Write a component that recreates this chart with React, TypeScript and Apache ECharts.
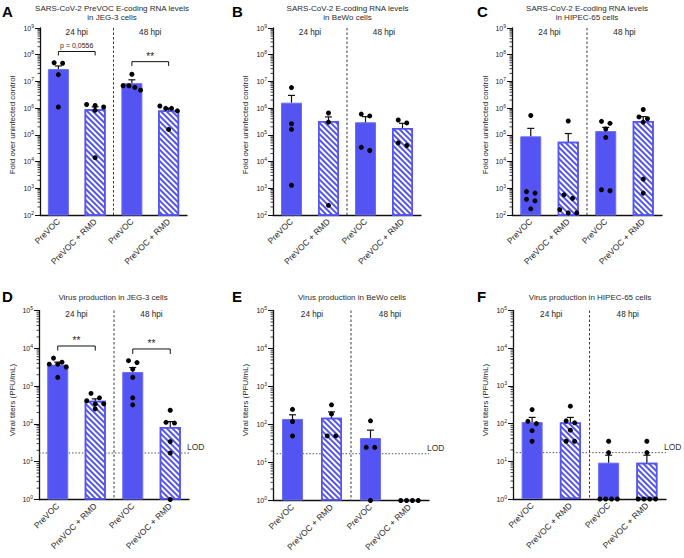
import React, { useEffect, useRef } from "react";
import * as echarts from "echarts";

const FONT = "'Liberation Sans', Arial, Helvetica, sans-serif";
const BLUE = "#5454F2";
const INK = "#1e1e1e";

const categories = ["PreVOC", "PreVOC + RMD", "PreVOC", "PreVOC + RMD"];
const withRmd = [false, true, false, true];
const timepoints = ["24 hpi", "48 hpi"];

// A: E-coding RNA, PreVOC, JEG-3
const jegRnaMean = [2.9e7, 9.0e5, 8.6e6, 8.2e5];
const jegRnaSemTop = [3.8e7, 1.12e6, 1.15e7, 1.0e6];
const jegRnaPoints = [
  [5.0e7, 4.8e7, 1.8e7, 1.1e6],
  [1.37e6, 1.26e6, 1.1e6, 8.3e5, 1.4e4],
  [1.86e7, 6.9e6, 6.9e6, 6.0e6, 4.7e6],
  [1.2e6, 9.8e5, 9.8e5, 7.9e5, 1.6e5],
];
const jegRnaBrackets = [
  { from: 0, to: 1, top: 1.32e8, leg: 9.4e7, text: "p = 0,0556" },
  { from: 2, to: 3, top: 5.5e7, leg: 3.8e7, text: "**" },
];

// B: E-coding RNA, BeWo
const bewoRnaMean = [1.6e6, 3.3e5, 2.95e5, 1.8e5];
const bewoRnaSemTop = [3.0e6, 4.7e5, 4.8e5, 2.7e5];
const bewoRnaPoints = [
  [5.9e6, 2.6e5, 1.6e5, 1.3e3],
  [6.6e5, 3.0e5, 2.3e2],
  [6.0e5, 5.1e5, 3.4e4, 2.6e4],
  [3.6e5, 2.8e5, 5.0e4, 4.0e4],
];

// C: E-coding RNA, HIPEC-65
const hipecRnaMean = [8.8e4, 5.5e4, 1.38e5, 3.3e5];
const hipecRnaSemTop = [1.75e5, 1.12e5, 1.9e5, 4.8e5];
const hipecRnaPoints = [
  [5.3e5, 750, 660, 390, 340, 170],
  [3.3e5, 570, 420, 160, 120, 120],
  [3.2e5, 2.7e5, 1.66e5, 8.0e4, 880, 810],
  [8.9e5, 4.7e5, 4.0e5, 3.0e5, 2.2e3, 660],
];

// D: infectious titers, JEG-3
const jegTiterMean = [3.7e3, 4.1e2, 2.35e3, 83];
const jegTiterSemTop = [4.3e3, 4.6e2, 3.1e3, 115];
const jegTiterPoints = [
  [5.5e3, 4.3e3, 3.8e3, 3.8e3, 3.2e3, 1.7e3],
  [640, 490, 410, 340, 340, 250],
  [4.7e3, 4.2e3, 2.8e3, 1.7e3, 490, 320],
  [230, 110, 105, 34, 17, 1],
];
const jegTiterBrackets = [
  { from: 0, to: 1, top: 1.15e4, leg: 8.7e3, text: "**" },
  { from: 2, to: 3, top: 9.6e3, leg: 7.1e3, text: "**" },
];

// E: infectious titers, BeWo
const bewoTiterMean = [140, 150, 44, 1];
const bewoTiterSemTop = [180, 215, 71, 1];
const bewoTiterPoints = [
  [250, 120, 50],
  [330, 190, 50, 50],
  [125, 25, 25, 1],
  [1, 1, 1, 1],
];

// F: infectious titers, HIPEC-65
const hipecTiterMean = [110, 107, 9.2, 9.2];
const hipecTiterSemTop = [146, 146, 14.5, 14.5];
const hipecTiterPoints = [
  [235, 115, 100, 65, 34],
  [290, 118, 105, 67, 34, 34],
  [34, 17, 1, 1, 1, 1],
  [34, 17, 1, 1, 1, 1],
];

const rnaRange = [1e2, 1e9];
const titerRange = [1, 1e5];
const titerLod = 17;

type Bracket = { from: number; to: number; top: number; leg: number; text: string };
type Panel = {
  letter: string;
  letterPos: [number, number];
  title: string;
  titlePos: [number, number];
  titleTwoLines: boolean;
  yName: string;
  yNamePos: [number, number];
  mean: number[];
  semTop: number[];
  points: number[][];
  range: number[];
  box: [number, number, number, number];
  lod?: number;
  brackets?: Bracket[];
};

const panels: Panel[] = [
  {
    letter: "A", letterPos: [2, 4],
    title: "SARS-CoV-2 PreVOC E-coding RNA levels\nin JEG-3 cells", titlePos: [112, 3.5], titleTwoLines: true,
    yName: "Fold over uninfected control", yNamePos: [12, 125],
    mean: jegRnaMean, semTop: jegRnaSemTop, points: jegRnaPoints, range: rnaRange,
    box: [40, 28, 147, 187], brackets: jegRnaBrackets,
  },
  {
    letter: "B", letterPos: [232, 4],
    title: "SARS-CoV-2 E-coding RNA levels\nin BeWo cells", titlePos: [347.5, 3.5], titleTwoLines: true,
    yName: "Fold over uninfected control", yNamePos: [245, 125],
    mean: bewoRnaMean, semTop: bewoRnaSemTop, points: bewoRnaPoints, range: rnaRange,
    box: [273, 28, 148, 187],
  },
  {
    letter: "C", letterPos: [477, 4],
    title: "SARS-CoV-2 E-coding RNA levels\nin HIPEC-65 cells", titlePos: [587, 3.5], titleTwoLines: true,
    yName: "Fold over uninfected control", yNamePos: [485, 125],
    mean: hipecRnaMean, semTop: hipecRnaSemTop, points: hipecRnaPoints, range: rnaRange,
    box: [512, 28, 150, 187],
  },
  {
    letter: "D", letterPos: [2, 289],
    title: "Virus production in JEG-3 cells", titlePos: [113, 297], titleTwoLines: false,
    yName: "Viral titers (PFU/mL)", yNamePos: [12, 400],
    mean: jegTiterMean, semTop: jegTiterSemTop, points: jegTiterPoints, range: titerRange,
    box: [39, 310.5, 150, 189], lod: titerLod, brackets: jegTiterBrackets,
  },
  {
    letter: "E", letterPos: [232, 289],
    title: "Virus production in BeWo cells", titlePos: [352, 297], titleTwoLines: false,
    yName: "Viral titers (PFU/mL)", yNamePos: [245, 400],
    mean: bewoTiterMean, semTop: bewoTiterSemTop, points: bewoTiterPoints, range: titerRange,
    box: [273, 310.5, 156, 190], lod: titerLod,
  },
  {
    letter: "F", letterPos: [477, 289],
    title: "Virus production in HIPEC-65 cells", titlePos: [590, 297], titleTwoLines: false,
    yName: "Viral titers (PFU/mL)", yNamePos: [485, 400],
    mean: hipecTiterMean, semTop: hipecTiterSemTop, points: hipecTiterPoints, range: titerRange,
    box: [513, 310.5, 153, 188.5], lod: titerLod,
  },
];

const DOT_D = 5;

// Spread replicate dots sideways when they would overlap (simple row-based swarm).
function swarm(values: number[], pxPerDecade: number): number[][] {
  const sorted = [...values].sort((a, b) => b - a);
  const rows: number[][] = [];
  for (const v of sorted) {
    const last = rows[rows.length - 1];
    if (last && (Math.log10(last[0]) - Math.log10(v)) * pxPerDecade < DOT_D) last.push(v);
    else rows.push([v]);
  }
  const out: number[][] = [];
  rows.forEach((row) => {
    const n = row.length;
    const step = n > 1 ? Math.min(8.5, 17.5 / (n - 1)) : 0;
    row.forEach((v, i) => out.push([v, (i - (n - 1) / 2) * step]));
  });
  return out;
}

const textStyle = (text: string, size: number, extra: any = {}) => ({
  text,
  fill: INK,
  textFill: INK,
  fontSize: size,
  fontFamily: FONT,
  align: "center",
  textAlign: "center",
  verticalAlign: "middle",
  textVerticalAlign: "middle",
  ...extra,
});

const customBase = (k: number, z: number) => ({
  type: "custom",
  xAxisIndex: k,
  yAxisIndex: k,
  z,
  silent: true,
  itemStyle: { color: "#111" },
});

function buildOption() {
  const grid: any[] = [];
  const xAxis: any[] = [];
  const yAxis: any[] = [];
  const series: any[] = [];
  const graphic: any[] = [];

  panels.forEach((p, k) => {
    const [left, top, width, height] = p.box;
    const [yMin, yMax] = p.range;
    const decades = Math.log10(yMax) - Math.log10(yMin);
    const pxPerDecade = height / decades;

    grid.push({ left, top, width, height, containLabel: false });

    xAxis.push({
      type: "category",
      gridIndex: k,
      data: categories,
      boundaryGap: true,
      axisLine: { lineStyle: { color: "#111", width: 1.3 } },
      axisTick: { alignWithLabel: true, length: 3, lineStyle: { color: "#111", width: 1 } },
      axisLabel: {
        interval: 0,
        rotate: 45,
        margin: 5,
        fontSize: 8.5,
        fontFamily: FONT,
        color: INK,
      },
      splitLine: { show: false },
    });

    yAxis.push({
      type: "log",
      logBase: 10,
      gridIndex: k,
      min: yMin,
      max: yMax,
      splitNumber: decades,
      axisLine: { show: true, lineStyle: { color: "#111", width: 1.3 } },
      axisTick: { show: true, length: 5, lineStyle: { color: "#111", width: 1 } },
      splitLine: { show: false },
      axisLabel: {
        margin: 6,
        fontSize: 7,
        fontFamily: FONT,
        color: INK,
        formatter: (v: number) => "10{sup|" + Math.round(Math.log10(v)) + "}",
        rich: {
          sup: { fontSize: 5, fontFamily: FONT, color: INK, verticalAlign: "top", padding: [0, 0, 5, 0] },
        },
      },
    });

    // bars
    series.push({
      type: "bar",
      xAxisIndex: k,
      yAxisIndex: k,
      barWidth: 21,
      z: 2,
      silent: true,
      data: p.mean.map((v, i) => ({
        value: v,
        itemStyle: withRmd[i]
          ? {
              color: "#ffffff",
              borderColor: BLUE,
              borderWidth: 1.5,
              decal: {
                symbol: "rect",
                symbolSize: 1,
                color: BLUE,
                backgroundColor: "rgba(255,255,255,0)",
                dashArrayX: [1, 0],
                dashArrayY: [1.7, 1.9],
                rotation: Math.PI / 4,
              },
            }
          : { color: BLUE, borderColor: "#6c6cf4", borderWidth: 1 },
      })),
    });

    // limit of detection
    if (p.lod != null) {
      series.push({
        ...customBase(k, 1),
        data: [[0, p.lod]],
        renderItem: (params: any, api: any) => {
          const cs = params.coordSys;
          const y = api.coord([0, api.value(1)])[1];
          return {
            type: "group",
            children: [
              {
                type: "line",
                shape: { x1: cs.x, y1: y, x2: cs.x + cs.width, y2: y },
                style: { stroke: "#555", lineWidth: 1, lineDash: [1.5, 1.8] },
              },
              {
                type: "text",
                x: cs.x + cs.width - 2,
                y: y - 1,
                style: textStyle("LOD", 8.5, {
                  fill: "#333",
                  textFill: "#333",
                  align: "left",
                  textAlign: "left",
                  verticalAlign: "bottom",
                  textVerticalAlign: "bottom",
                }),
              },
            ],
          };
        },
      });
    }

    // SEM error bars (upper half)
    series.push({
      ...customBase(k, 3),
      data: p.mean.map((v, i) => [i, v, p.semTop[i]]),
      renderItem: (params: any, api: any) => {
        const a = api.coord([api.value(0), api.value(1)]);
        const b = api.coord([api.value(0), api.value(2)]);
        if (a[1] - b[1] < 0.5) return { type: "group", children: [] };
        const st = { stroke: "#111", lineWidth: 1.2 };
        return {
          type: "group",
          children: [
            { type: "line", shape: { x1: a[0], y1: a[1], x2: b[0], y2: b[1] }, style: st },
            { type: "line", shape: { x1: b[0] - 3.5, y1: b[1], x2: b[0] + 3.5, y2: b[1] }, style: st },
          ],
        };
      },
    });

    // replicate dots
    const dots: number[][] = [];
    p.points.forEach((vals, i) => {
      swarm(vals, pxPerDecade).forEach(([v, off]) => dots.push([i, v, off]));
    });
    series.push({
      ...customBase(k, 4),
      data: dots,
      renderItem: (params: any, api: any) => {
        const c = api.coord([api.value(0), api.value(1)]);
        return { type: "circle", shape: { cx: c[0] + api.value(2), cy: c[1], r: 2.5 }, style: { fill: "#000" } };
      },
    });

    // log-distributed minor ticks on the y axis
    const minorValues: number[][] = [];
    for (let e = Math.log10(yMin); e < Math.log10(yMax); e++) {
      for (let m = 2; m <= 9; m++) minorValues.push([0, m * Math.pow(10, e)]);
    }
    series.push({
      ...customBase(k, 1),
      data: minorValues,
      renderItem: (params: any, api: any) => {
        const y = api.coord([0, api.value(1)])[1];
        const x0 = params.coordSys.x;
        return { type: "line", shape: { x1: x0 - 2.5, y1: y, x2: x0, y2: y }, style: { stroke: "#111", lineWidth: 0.8 } };
      },
    });

    // time-point separator and headings
    series.push({
      ...customBase(k, 1),
      data: [[0, yMin]],
      renderItem: (params: any, api: any) => {
        const cs = params.coordSys;
        const cx = [0, 1, 2, 3].map((i) => api.coord([i, yMin])[0]);
        const mid = (cx[1] + cx[2]) / 2;
        return {
          type: "group",
          children: [
            {
              type: "line",
              shape: { x1: mid, y1: cs.y, x2: mid, y2: cs.y + cs.height },
              style: { stroke: "#3a3a3a", lineWidth: 1, lineDash: [2.5, 2] },
            },
            { type: "text", x: (cx[0] + cx[1]) / 2, y: cs.y + 4, style: textStyle(timepoints[0], 8.2) },
            { type: "text", x: (cx[2] + cx[3]) / 2, y: cs.y + 4, style: textStyle(timepoints[1], 8.2) },
          ],
        };
      },
    });

    // significance brackets
    if (p.brackets) {
      const br = p.brackets;
      series.push({
        ...customBase(k, 4),
        data: br.map((b) => [b.from, b.to, b.top, b.leg]),
        renderItem: (params: any, api: any) => {
          const x1 = api.coord([api.value(0), api.value(2)])[0];
          const x2 = api.coord([api.value(1), api.value(2)])[0];
          const yTop = api.coord([api.value(0), api.value(2)])[1];
          const yLeg = api.coord([api.value(0), api.value(3)])[1];
          const label = br[params.dataIndex].text;
          const isStars = label === "**";
          return {
            type: "group",
            children: [
              {
                type: "polyline",
                shape: { points: [[x1, yLeg], [x1, yTop], [x2, yTop], [x2, yLeg]] },
                style: { stroke: "#111", lineWidth: 1, fill: null },
              },
              {
                type: "text",
                x: (x1 + x2) / 2,
                y: yTop - (isStars ? 0.5 : 2),
                style: textStyle(label, isStars ? 10 : 7, { verticalAlign: "bottom", textVerticalAlign: "bottom" }),
              },
            ],
          };
        },
      });
    }

    // panel letter, title, y axis name
    graphic.push({
      type: "text",
      x: p.letterPos[0],
      y: p.letterPos[1],
      silent: true,
      style: textStyle(p.letter, 15, {
        fontWeight: "bold",
        fill: "#000",
        textFill: "#000",
        align: "left",
        textAlign: "left",
        verticalAlign: "top",
        textVerticalAlign: "top",
      }),
    });
    graphic.push({
      type: "text",
      x: p.titlePos[0],
      y: p.titlePos[1],
      silent: true,
      style: textStyle(p.title, 8, p.titleTwoLines
        ? { lineHeight: 9, verticalAlign: "top", textVerticalAlign: "top", fill: "#2a2a2a", textFill: "#2a2a2a" }
        : { fill: "#2a2a2a", textFill: "#2a2a2a" }),
    });
    graphic.push({
      type: "text",
      x: p.yNamePos[0],
      y: p.yNamePos[1],
      rotation: Math.PI / 2,
      silent: true,
      style: textStyle(p.yName, 8),
    });
  });

  return {
    animation: false,
    backgroundColor: "#ffffff",
    grid,
    xAxis,
    yAxis,
    series,
    graphic,
  };
}

export default function App() {
  const ref = useRef<HTMLDivElement>(null);
  useEffect(() => {
    if (!ref.current) return;
    const chart = echarts.init(ref.current, undefined, { renderer: "svg" });
    chart.setOption(buildOption() as any);
    return () => chart.dispose();
  }, []);
  return (
    <div
      ref={ref}
      style={{ position: "absolute", left: 0, top: 0, width: 684, height: 558, background: "#fff" }}
    />
  );
}
